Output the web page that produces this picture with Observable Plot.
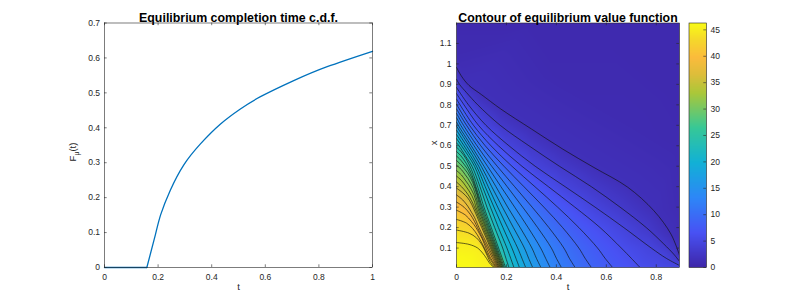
<!DOCTYPE html>
<html><head><meta charset="utf-8">
<script src="https://cdn.jsdelivr.net/npm/d3@7"></script>
<script src="https://cdn.jsdelivr.net/npm/@observablehq/plot@0.6"></script>
<style>
body{margin:0;background:#fff;}
#fig{position:relative;width:800px;height:300px;background:#fff;overflow:hidden;}
#fig svg{position:absolute;top:0;}
</style></head><body><div id="fig"></div>
<script>
// ---------- data: left panel (c.d.f.) ----------
const cdfT = [0, 0.1, 0.158, 0.19, 0.21, 0.246, 0.296, 0.358, 0.433, 0.507, 0.582, 0.706, 0.831, 1.0];
const cdfF = [0, 0, 0, 0.094, 0.152, 0.222, 0.294, 0.354, 0.411, 0.454, 0.489, 0.535, 0.575, 0.619];
const cdfStart = 0.158; // where the c.d.f. leaves zero
const leftXTicks = [0, 0.2, 0.4, 0.6, 0.8, 1];
const leftYTicks = [0, 0.1, 0.2, 0.3, 0.4, 0.5, 0.6, 0.7];

// ---------- data: right panel (contours of value function) ----------
const rightXTicks = [0, 0.2, 0.4, 0.6, 0.8];
const rightYTicks = [0.1, 0.2, 0.3, 0.4, 0.5, 0.6, 0.7, 0.8, 0.9, 1, 1.1];
const colorTicks = [0, 5, 10, 15, 20, 25, 30, 35, 40, 45];
const valueMax = 46.3;
const contourLevels = [45, 43.5, 42, 40.5, 39, 37.5, 36, 34.5, 33, 31.5, 30, 28.5, 27, 25.5, 24,
  22.5, 21, 19.5, 18, 16.5, 15, 13.5, 12, 10.5, 9, 7.5, 6, 4.5, 3, 1.5];
// each path: [t, x] points
const contourPaths = [
  [[0,.127],[.05,.118],[.085,.1],[.105,.075],[.12,.05],[.133,.025],[.15,.005]],
  [[0,.188],[.05,.173],[.08,.15],[.1,.12],[.113,.09],[.124,.06],[.136,.03],[.1535,.005]],
  [[0,.24],[.04,.222],[.065,.195],[.083,.165],[.097,.135],[.108,.11],[.12,.08],[.135,.045],[.157,.005]],
  [[0,.285],[.035,.262],[.06,.23],[.078,.2],[.092,.17],[.103,.145],[.118,.1],[.135,.055],[.1605,.005]],
  [[0,.325],[.03,.3],[.055,.265],[.072,.23],[.084,.2],[.1,.16],[.124,.1],[.142,.055],[.1635,.005]],
  [[0,.36],[.025,.335],[.045,.305],[.06,.275],[.072,.25],[.09,.2],[.13,.1],[.1665,.005]],
  [[0,.393],[.025,.37],[.045,.345],[.058,.32],[.066,.3],[.101,.2],[.136,.1],[.1695,.005]],
  [[0,.423],[.02,.4],[.038,.375],[.052,.35],[.063,.325],[.072,.3],[.106,.2],[.1401,.1],[.1725,.005]],
  [[0,.452],[.02,.43],[.036,.405],[.05,.38],[.062,.355],[.071,.33],[.078,.3],[.111,.2],[.1441,.1],[.1755,.005]],
  [[0,.479],[.02,.457],[.035,.432],[.048,.41],[.06,.385],[.07,.36],[.078,.33],[.084,.3],[.116,.2],[.148,.1],[.1785,.005]],
  [[0,.505],[.02,.483],[.034,.46],[.046,.44],[.058,.415],[.068,.39],[.076,.36],[.083,.33],[.089,.3],[.12,.2],[.1517,.1],[.1815,.005]],
  [[0,.528],[.018,.507],[.032,.487],[.044,.468],[.055,.445],[.065,.42],[.074,.39],[.082,.36],[.088,.33],[.094,.3],[.1247,.2],[.1554,.1],[.1845,.005]],
  [[0,.55],[.017,.53],[.03,.51],[.042,.49],[.053,.465],[.063,.44],[.072,.41],[.08,.38],[.087,.35],[.093,.325],[.099,.3],[.129,.2],[.159,.1],[.1875,.005]],
  [[0,.572],[.016,.553],[.028,.534],[.04,.512],[.051,.487],[.061,.46],[.07,.43],[.078,.4],[.086,.37],[.092,.345],[.098,.32],[.104,.3],[.1337,.2],[.1633,.1],[.1915,.005]],
  [[0,.593],[.016,.574],[.028,.555],[.039,.535],[.05,.51],[.06,.483],[.069,.455],[.078,.425],[.086,.395],[.094,.365],[.101,.335],[.11,.3],[.1393,.2],[.1686,.1],[.1965,.005]],
  [[0,.614],[.01,.6],[.036,.55],[.062,.5],[.094,.4],[.122,.3],[.153,.2],[.185,.1],[.198,.05],[.21,.005]],
  [[0,.635],[.02,.6],[.072,.5],[.104,.4],[.136,.3],[.168,.2],[.202,.1],[.217,.05],[.23,.005]],
  [[0,.655],[.03,.6],[.08,.5],[.115,.4],[.15,.3],[.186,.2],[.222,.1],[.238,.05],[.252,.005]],
  [[0,.676],[.04,.6],[.089,.5],[.127,.4],[.165,.3],[.205,.2],[.245,.1],[.262,.05],[.277,.005]],
  [[0,.696],[.05,.6],[.099,.5],[.141,.4],[.184,.3],[.228,.2],[.272,.1],[.289,.05],[.305,.005]],
  [[0,.716],[.007,.7],[.059,.6],[.11,.5],[.158,.4],[.205,.3],[.255,.2],[.302,.1],[.32,.05],[.338,.005]],
  [[0,.737],[.017,.7],[.07,.6],[.124,.5],[.178,.4],[.233,.3],[.287,.2],[.337,.1],[.357,.05],[.375,.005]],
  [[0,.758],[.028,.7],[.082,.6],[.141,.5],[.203,.4],[.265,.3],[.325,.2],[.38,.1],[.4,.05],[.42,.005]],
  [[0,.78],[.04,.7],[.097,.6],[.163,.5],[.233,.4],[.303,.3],[.37,.2],[.43,.1],[.452,.05],[.475,.005]],
  [[0,.803],[.052,.7],[.115,.6],[.19,.5],[.27,.4],[.35,.3],[.425,.2],[.49,.1],[.515,.05],[.54,.005]],
  [[0,.828],[.014,.8],[.068,.7],[.138,.6],[.222,.5],[.314,.4],[.405,.3],[.49,.2],[.565,.1],[.595,.05],[.625,.005]],
  [[0,.855],[.03,.8],[.088,.7],[.168,.6],[.262,.5],[.368,.4],[.474,.3],[.575,.2],[.66,.1],[.7,.05],[.735,.005]],
  [[0,.885],[.048,.8],[.118,.7],[.21,.6],[.315,.5],[.435,.4],[.555,.3],[.67,.2],[.78,.1],[.84,.05],[.893,.015]],
  [[0,.925],[.012,.9],[.04,.86],[.085,.8],[.175,.7],[.29,.6],[.412,.5],[.54,.4],[.655,.3],[.76,.2],[.83,.12],[.87,.07],[.893,.035]],
  [[0,.983],[.02,.94],[.05,.895],[.1,.85],[.177,.78],[.3,.682],[.425,.584],[.55,.494],[.685,.398],[.79,.283],[.859,.168],[.893,.065]]
];
// extra value samples (t, x, value) in the flat regions
const fillAnchors = [
  [0,.005,46.3],[.07,.005,46.1],[.13,.005,45.4],[0,.06,46.0],[.06,.06,45.8],
  [.893,.005,5.0],[.82,.005,5.4],
  [0,1.2,0.6],[.3,1.2,0.6],[.6,1.2,0.6],[.893,1.2,0.6],[.893,.9,0.6],[.893,.6,0.7],
  [.893,.3,0.9],[.893,.15,1.1],[0,1.05,0.8],[.4,.95,0.7],[.7,.7,0.8]
];
const parulaPos = [0, 0.143, 0.286, 0.429, 0.571, 0.714, 0.79, 0.857, 0.93, 1];
const parulaStops = ["#3e26a8","#4852f4","#2d87f7","#12b1d6","#37c897","#abc739","#debd3a","#fbbb3c","#f5d82b","#f9fb15"];

// ---------- helpers ----------
const FONT = "'Liberation Sans', Arial, Helvetica, sans-serif";
const AX = "#262626";
const fmt = d => String(d);
const H = 300, MT = 22.5, MB = 33;
const innerH = H - MT - MB;
function boxTicks(xt, yt, innerW, len) {
  return [
    Plot.tickX(xt, {x: d => d, insetTop: innerH - len, stroke: AX, strokeWidth: 0.6}),
    Plot.tickX(xt, {x: d => d, insetBottom: innerH - len, stroke: AX, strokeWidth: 0.6}),
    Plot.tickY(yt, {y: d => d, insetRight: innerW - len, stroke: AX, strokeWidth: 0.6}),
    Plot.tickY(yt, {y: d => d, insetLeft: innerW - len, stroke: AX, strokeWidth: 0.6})
  ];
}
const baseStyle = {background: "transparent", fontFamily: FONT, fontSize: "8.5px", color: AX, overflow: "visible"};
const parula = d3.scaleLinear().domain(parulaPos).range(parulaStops).interpolate(d3.interpolateRgb).clamp(true);
const fig = document.getElementById("fig");

// ---------- left plot ----------
const cdfRows = cdfT.map((t, i) => ({t, f: cdfF[i]}));
const cdfFlat = cdfRows.filter(d => d.t <= cdfStart);
const cdfRise = cdfRows.filter(d => d.t >= cdfStart);
const leftW = 400, leftMR = 28, leftML = 104;
const left = Plot.plot({
  width: leftW, height: H, marginLeft: leftML, marginRight: leftMR, marginTop: MT, marginBottom: MB,
  style: baseStyle,
  x: {domain: [0, 1]},
  y: {domain: [0, 0.7]},
  marks: [
    Plot.line(cdfFlat, {x: "t", y: "f", stroke: "#0072BD", strokeWidth: 1.3}),
    Plot.line(cdfRise, {x: "t", y: "f", stroke: "#0072BD", strokeWidth: 1.3, curve: "natural"}),
    ...boxTicks(leftXTicks, leftYTicks, leftW - leftML - leftMR, 2.7),
    Plot.frame({stroke: AX, strokeWidth: 0.6}),
    Plot.axisX({ticks: leftXTicks, tickFormat: fmt, tickSize: 0, tickPadding: 6, label: null}),
    Plot.axisY({ticks: leftYTicks, tickFormat: fmt, tickSize: 0, tickPadding: 4.5, label: null}),
    Plot.text(["Equilibrium completion time c.d.f."], {frameAnchor: "top", dy: -9.5, text: d => d, fontWeight: "bold", fontSize: 12.4, fill: "#000"}),
    Plot.text(["t"], {frameAnchor: "bottom", dy: 22, text: d => d, fontSize: 9.5, fill: AX})
  ]
});
left.style.left = "0px";
fig.appendChild(left);
{
  const lab = d3.select(left).append("text")
    .attr("transform", "translate(76,152) rotate(-90)")
    .attr("text-anchor", "middle").attr("font-size", 9.5).attr("fill", AX);
  lab.append("tspan").text("F");
  lab.append("tspan").attr("font-size", 7).attr("dy", 2.5).text("μ");
  lab.append("tspan").attr("dy", -2.5).text("(t)");
}

// ---------- right plot ----------
const fillRows = [];
const lineRows = [];
contourPaths.forEach((path, i) => {
  path.forEach(([t, x]) => {
    fillRows.push({t, x, v: contourLevels[i]});
    lineRows.push({t, x, level: contourLevels[i]});
  });
});
fillAnchors.forEach(([t, x, v]) => fillRows.push({t, x, v}));

const tMax = 0.893, xMin = 0.005, xMax = 1.2;
const rightW = 300, rightML = 56, rightMR = 21;
const colorScale = {type: "linear", domain: [0, valueMax], interpolate: parula};
const right = Plot.plot({
  width: rightW, height: H, marginLeft: rightML, marginRight: rightMR, marginTop: MT, marginBottom: MB,
  style: baseStyle,
  x: {domain: [0, tMax]},
  y: {domain: [xMin, xMax]},
  color: colorScale,
  marks: [
    Plot.raster(fillRows, {x: "t", y: "x", fill: "v", interpolate: "barycentric", x1: 0, x2: tMax, y1: xMin, y2: xMax}),
    Plot.line(lineRows, {x: "t", y: "x", z: "level", stroke: "#111", strokeWidth: 0.65, curve: "catmull-rom", clip: true}),
    ...boxTicks(rightXTicks, rightYTicks, rightW - rightML - rightMR, 2.7),
    Plot.frame({stroke: AX, strokeWidth: 0.6}),
    Plot.axisX({ticks: rightXTicks, tickFormat: fmt, tickSize: 0, tickPadding: 6, label: null}),
    Plot.axisY({ticks: rightYTicks, tickFormat: fmt, tickSize: 0, tickPadding: 5, label: null}),
    Plot.text(["Contour of equilibrium value function"], {frameAnchor: "top", dy: -9.5, text: d => d, fontWeight: "bold", fontSize: 12.3, fill: "#000"}),
    Plot.text(["t"], {frameAnchor: "bottom", dy: 22, text: d => d, fontSize: 9.5, fill: AX}),
    Plot.text(["x"], {frameAnchor: "left", dx: -22.5, rotate: -90, text: d => d, fontSize: 9.5, fill: AX})
  ]
});
right.style.left = "400px";
fig.appendChild(right);

// ---------- colorbar ----------
const cbW = 120, cbML = 8.5, cbMR = 94;
const cbar = Plot.plot({
  width: cbW, height: H, marginLeft: cbML, marginRight: cbMR, marginTop: MT, marginBottom: MB,
  style: baseStyle,
  x: {domain: [0, 1], axis: null},
  y: {domain: [0, valueMax]},
  color: colorScale,
  marks: [
    Plot.raster({fill: (x, y) => y, x1: 0, x2: 1, y1: 0, y2: valueMax, pixelSize: 1}),
    Plot.tickY(colorTicks, {y: d => d, insetLeft: (cbW - cbML - cbMR) - 2.7, stroke: AX, strokeWidth: 0.6}),
    Plot.frame({stroke: AX, strokeWidth: 0.6}),
    Plot.axisY({anchor: "right", ticks: colorTicks, tickFormat: fmt, tickSize: 0, tickPadding: 4, label: null})
  ]
});
cbar.style.left = "680px";
fig.appendChild(cbar);
</script></body></html>
